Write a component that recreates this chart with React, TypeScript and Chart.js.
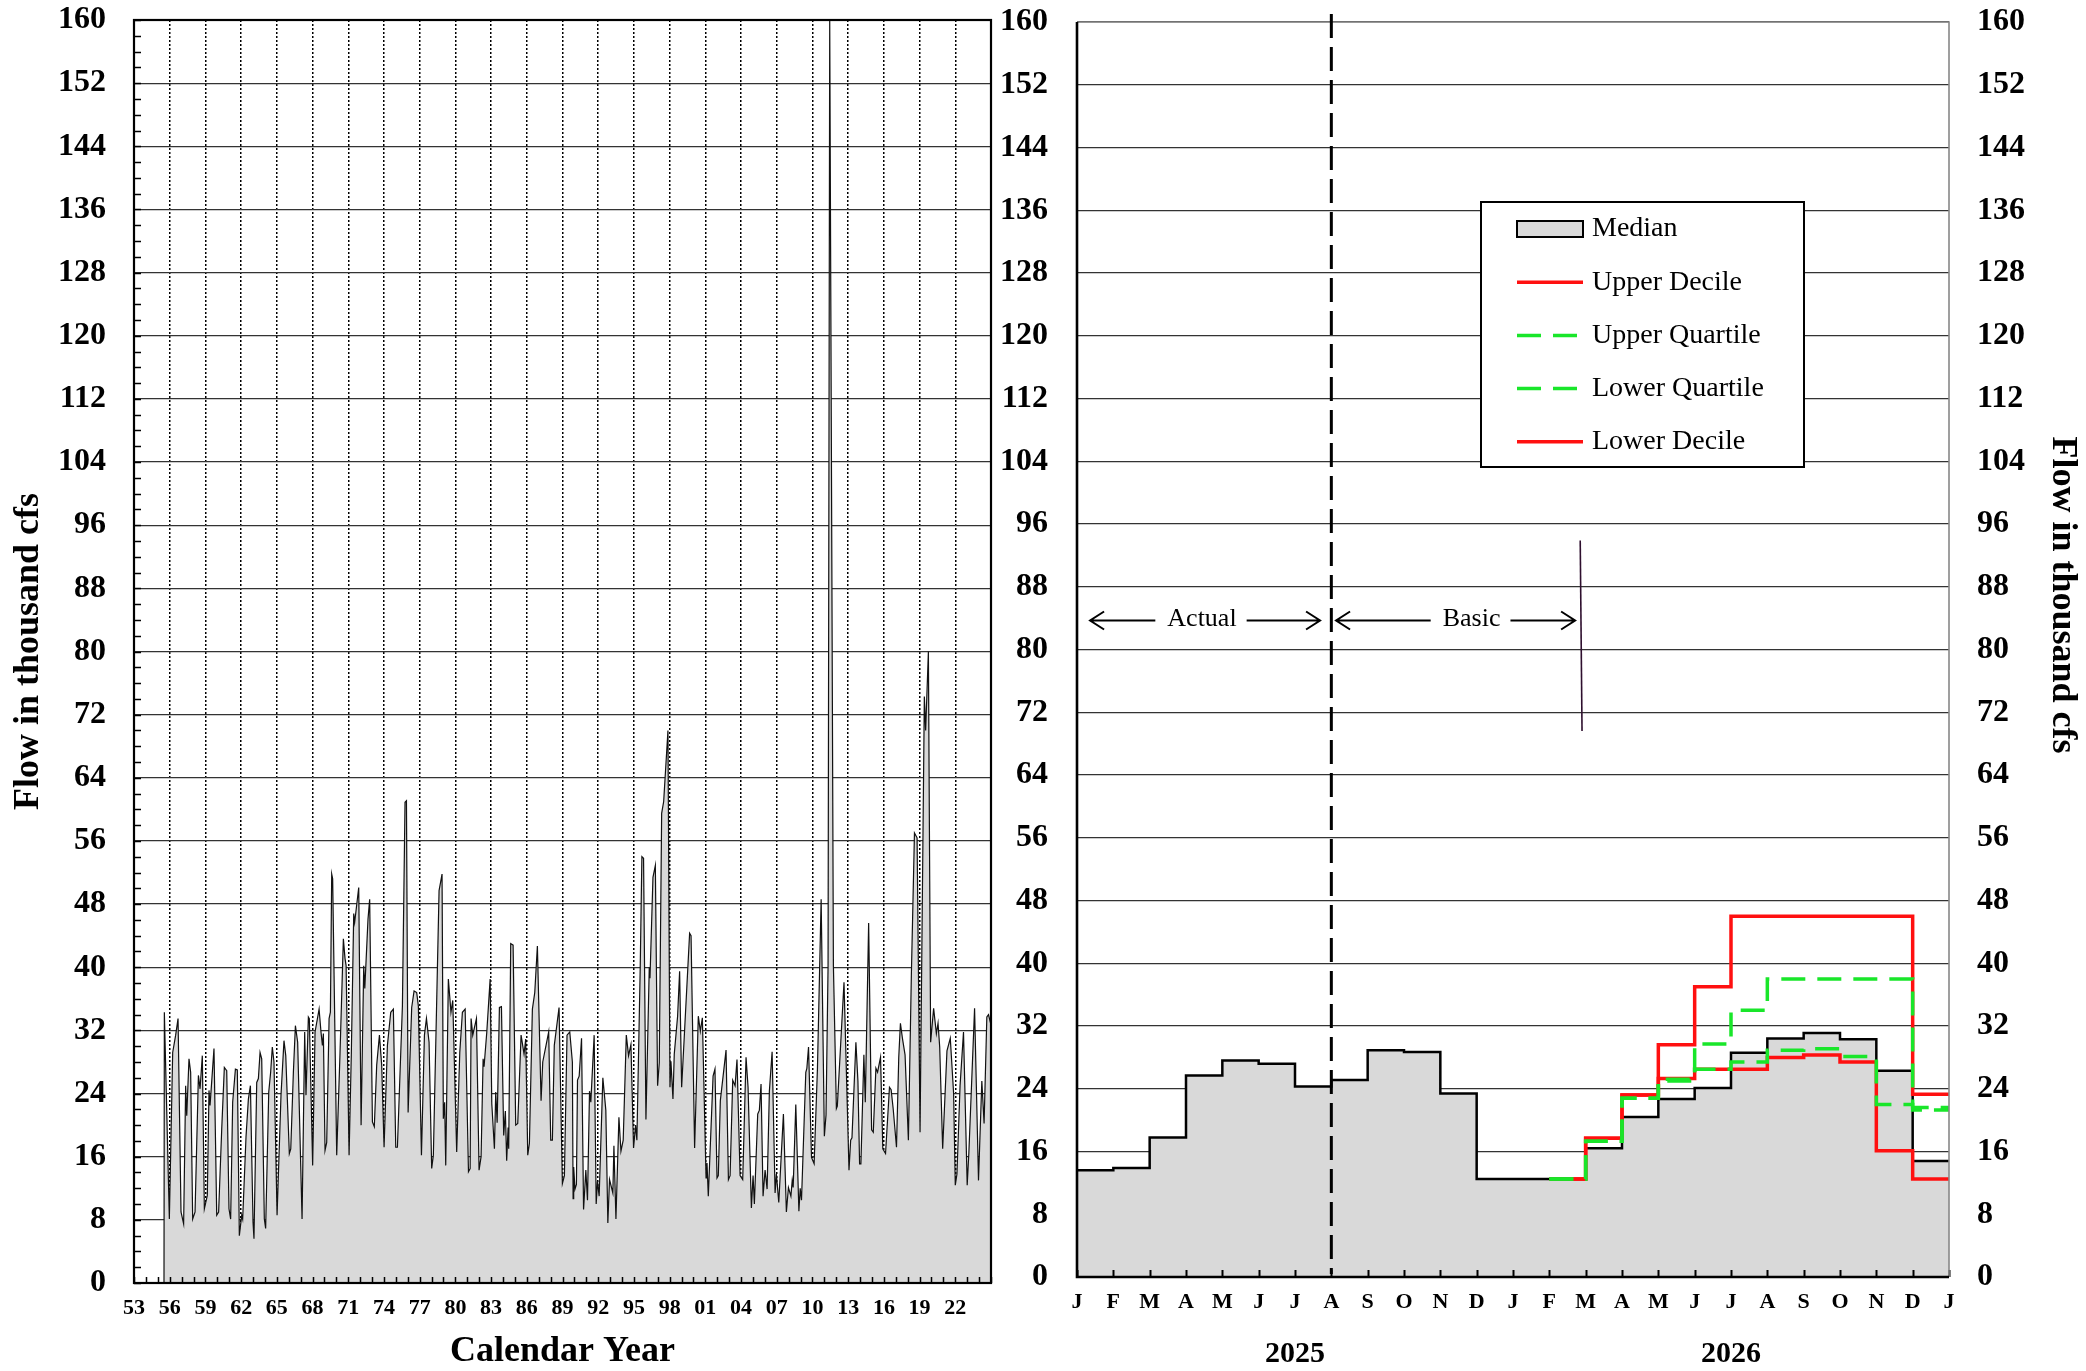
import React, { useEffect, useRef } from 'react';
import { Chart, registerables } from 'chart.js';

Chart.register(...registerables);

const W = 2086;
const H = 1371;
const SERIF = '"Liberation Serif", "Times New Roman", Times, serif';

// ---------------- Left panel: historical flow (thousand cfs) ----------------
const histYears = [
  1955.52, 1955.55, 1955.97, 1956.25, 1956.5, 1956.7, 1956.95, 1957.17, 1957.34, 1957.43, 1957.62, 1957.76,
  1957.93, 1958.13, 1958.41, 1958.55, 1958.74, 1958.91, 1959.16, 1959.3, 1959.39, 1959.72, 1959.95, 1960.11,
  1960.37, 1960.59, 1960.79, 1960.98, 1961.12, 1961.29, 1961.52, 1961.68, 1961.85, 1962.05, 1962.13, 1962.41,
  1962.61, 1962.78, 1963.0, 1963.08, 1963.31, 1963.45, 1963.59, 1963.73, 1963.95, 1964.06, 1964.32, 1964.48,
  1964.62, 1964.76, 1965.02, 1965.35, 1965.6, 1965.75, 1966.05, 1966.17, 1966.39, 1966.56, 1966.75, 1967.12,
  1967.34, 1967.45, 1967.65, 1967.73, 1968.01, 1968.21, 1968.55, 1968.71, 1968.83, 1968.91, 1969.05, 1969.19,
  1969.39, 1969.5, 1969.61, 1969.69, 1970.03, 1970.31, 1970.59, 1970.73, 1970.82, 1971.07, 1971.26, 1971.46,
  1971.54, 1971.88, 1972.08, 1972.3, 1972.39, 1972.66, 1972.8, 1973.03, 1973.19, 1973.39, 1973.62, 1973.81,
  1974.01, 1974.29, 1974.57, 1974.79, 1974.99, 1975.13, 1975.55, 1975.77, 1975.89, 1976.03, 1976.33, 1976.53,
  1976.75, 1976.89, 1977.15, 1977.4, 1977.57, 1977.79, 1978.01, 1978.15, 1978.41, 1978.63, 1978.88, 1978.99,
  1979.1, 1979.19, 1979.41, 1979.63, 1979.78, 1980.11, 1980.37, 1980.59, 1980.82, 1981.1, 1981.24, 1981.32,
  1981.46, 1981.77, 1981.99, 1982.16, 1982.33, 1982.41, 1982.64, 1982.92, 1983.06, 1983.28, 1983.39, 1983.51,
  1983.7, 1983.87, 1984.06, 1984.2, 1984.31, 1984.43, 1984.48, 1984.65, 1984.85, 1985.07, 1985.24, 1985.52,
  1985.77, 1985.91, 1986.08, 1986.22, 1986.47, 1986.67, 1986.89, 1987.2, 1987.34, 1987.67, 1987.84, 1988.01,
  1988.15, 1988.31, 1988.71, 1988.99, 1989.16, 1989.38, 1989.61, 1989.83, 1989.89, 1989.94, 1990.05, 1990.17,
  1990.26, 1990.4, 1990.6, 1990.77, 1990.96, 1991.1, 1991.27, 1991.38, 1991.66, 1991.83, 1991.94, 1992.08,
  1992.39, 1992.64, 1992.81, 1992.95, 1993.23, 1993.32, 1993.49, 1993.74, 1993.91, 1994.1, 1994.36, 1994.55,
  1994.75, 1994.97, 1995.14, 1995.25, 1995.53, 1995.67, 1995.81, 1996.01, 1996.29, 1996.35, 1996.6, 1996.8,
  1996.99, 1997.13, 1997.33, 1997.5, 1997.86, 1998.03, 1998.11, 1998.28, 1998.39, 1998.67, 1998.84, 1999.01,
  1999.23, 1999.68, 1999.8, 2000.1, 2000.41, 2000.58, 2000.75, 2001.06, 2001.14, 2001.25, 2001.65, 2001.81,
  2001.98, 2002.09, 2002.26, 2002.74, 2002.94, 2003.08, 2003.3, 2003.5, 2003.66, 2003.92, 2004.14, 2004.42,
  2004.59, 2004.87, 2005.01, 2005.12, 2005.4, 2005.54, 2005.68, 2005.85, 2006.02, 2006.19, 2006.38, 2006.61,
  2006.86, 2006.97, 2007.17, 2007.56, 2007.81, 2007.98, 2008.19, 2008.3, 2008.38, 2008.6, 2008.86, 2008.97,
  2009.08, 2009.44, 2009.53, 2009.67, 2009.92, 2010.14, 2010.42, 2010.73, 2011.0, 2011.14, 2011.31, 2011.45,
  2011.76, 2012.01, 2012.09, 2012.65, 2013.07, 2013.21, 2013.32, 2013.65, 2013.82, 2013.96, 2014.07, 2014.32,
  2014.44, 2014.72, 2014.97, 2015.11, 2015.33, 2015.47, 2015.72, 2015.91, 2016.14, 2016.47, 2016.61, 2016.78,
  2017.06, 2017.25, 2017.39, 2017.56, 2017.78, 2018.06, 2018.31, 2018.57, 2018.79, 2019.04, 2019.4, 2019.51,
  2019.74, 2019.93, 2020.18, 2020.41, 2020.55, 2020.69, 2020.94, 2021.3, 2021.58, 2021.86, 2022.0, 2022.14,
  2022.4, 2022.69, 2023.0, 2023.14, 2023.62, 2023.95, 2024.23, 2024.42, 2024.65, 2024.79, 2024.95,
];
const histFlows = [
  0, 34.3, 8.1, 29.2, 31.4, 33.5, 9.0, 7.5, 25.0, 21.2, 28.4, 26.7,
  8.1, 9.0, 26.3, 24.6, 28.8, 9.4, 11.1, 24.4, 22.5, 29.7, 8.6, 9.0,
  19.5, 27.3, 26.9, 9.4, 8.1, 22.9, 27.1, 27.0, 6.0, 8.6, 8.1, 18.5,
  23.3, 25.0, 7.7, 5.6, 25.4, 25.9, 29.2, 28.4, 8.1, 6.9, 24.2, 26.7,
  29.9, 28.0, 8.6, 23.8, 30.7, 28.8, 16.4, 17.0, 26.7, 32.6, 30.5, 8.1,
  31.8, 23.8, 33.7, 33.5, 14.9, 31.8, 34.7, 31.8, 30.1, 31.6, 16.8, 17.8,
  33.5, 34.3, 51.8, 51.2, 16.2, 29.2, 43.6, 41.1, 40.2, 16.2, 29.2, 46.8,
  45.7, 50.1, 20.0, 40.2, 37.3, 46.1, 48.6, 20.4, 19.8, 27.6, 31.4, 27.6,
  17.2, 30.1, 34.3, 34.7, 17.2, 17.2, 35.1, 60.9, 61.1, 21.6, 34.9, 37.0,
  36.8, 35.1, 16.2, 31.4, 33.5, 30.5, 14.5, 16.2, 34.3, 49.7, 51.8, 20.8,
  22.9, 14.9, 38.5, 34.3, 35.8, 16.6, 29.2, 34.3, 34.7, 14.1, 14.5, 33.5,
  31.4, 33.5, 14.3, 16.0, 28.4, 27.4, 31.8, 38.5, 22.7, 17.0, 24.2, 20.3,
  34.9, 35.0, 18.7, 21.8, 15.5, 19.7, 17.0, 43.0, 42.8, 20.0, 20.2, 31.4,
  29.0, 30.9, 16.2, 17.7, 34.7, 36.8, 42.7, 23.1, 28.0, 30.5, 31.8, 18.1,
  18.1, 30.1, 34.9, 12.6, 13.6, 31.4, 31.8, 28.0, 10.7, 14.7, 11.9, 12.5,
  25.7, 26.2, 31.0, 9.3, 14.3, 10.5, 24.3, 22.9, 31.4, 10.0, 12.9, 11.0,
  26.0, 21.9, 7.6, 13.1, 11.4, 17.4, 8.1, 21.0, 16.7, 18.1, 31.4, 28.8,
  30.2, 17.1, 20.0, 18.1, 40.0, 54.0, 53.8, 20.7, 40.0, 38.6, 51.4, 52.9,
  25.0, 27.9, 59.5, 61.0, 70.0, 24.8, 28.1, 23.3, 29.0, 33.8, 39.5, 24.8,
  31.2, 44.3, 44.0, 17.1, 33.8, 31.9, 33.6, 13.3, 15.2, 11.0, 26.2, 27.1,
  13.3, 13.6, 23.1, 29.5, 13.1, 13.6, 25.7, 25.0, 28.3, 13.6, 13.1, 28.6,
  24.8, 9.5, 13.6, 10.0, 21.4, 21.9, 25.2, 11.0, 14.3, 11.9, 24.3, 29.3,
  11.4, 13.8, 10.2, 21.4, 9.0, 12.1, 11.0, 13.0, 12.1, 22.6, 9.1, 12.0,
  10.5, 26.7, 27.2, 29.9, 15.9, 15.1, 27.2, 48.6, 18.6, 21.3, 40.0, 160,
  40.2, 22.1, 22.4, 38.1, 14.3, 18.1, 18.4, 30.5, 25.6, 15.1, 15.1, 28.9,
  22.9, 45.6, 19.4, 19.1, 27.2, 26.7, 28.6, 17.0, 16.4, 24.8, 24.5, 22.1,
  17.2, 28.6, 32.9, 31.0, 28.9, 18.1, 39.1, 57.0, 56.4, 19.1, 74.3, 70.0,
  80.0, 30.5, 34.8, 31.6, 32.9, 29.9, 17.0, 29.4, 31.0, 24.0, 12.4, 13.8,
  25.0, 31.8, 12.4, 16.5, 34.8, 13.0, 25.6, 20.2, 33.7, 34.0, 33.0,
];

const yearTicks = [
  1953, 1956, 1959, 1962, 1965, 1968, 1971, 1974, 1977, 1980, 1983, 1986,
  1989, 1992, 1995, 1998, 2001, 2004, 2007, 2010, 2013, 2016, 2019, 2022,
];
const yearTickLabels = [
  '53', '56', '59', '62', '65', '68', '71', '74', '77', '80', '83', '86',
  '89', '92', '95', '98', '01', '04', '07', '10', '13', '16', '19', '22',
];
const yearMin = 1953;
const yearMax = 2025;
const flowMin = 0;
const flowMax = 160;
const flowStep = 8;

// ---------------- Right panel: 2025 actual + 2026 forecast ----------------
const monthLabels = ['J', 'F', 'M', 'A', 'M', 'J', 'J', 'A', 'S', 'O', 'N', 'D',
  'J', 'F', 'M', 'A', 'M', 'J', 'J', 'A', 'S', 'O', 'N', 'D', 'J'];
const yearLabels = ['2025', '2026'];
const yearLabelMonths = [6, 18];
const medianFlows = [13.6, 13.9, 17.8, 25.7, 27.6, 27.2, 24.3, 25.1, 28.9, 28.7, 23.4, 12.5,
  12.5, 12.5, 16.4, 20.4, 22.7, 24.1, 28.6, 30.4, 31.1, 30.3, 26.3, 14.8];
const forecastStart = 13; // Feb 2026
const upperDecile = [12.5, 17.7, 23.2, 29.6, 37.0, 46.0, 46.0, 46.0, 46.0, 46.0, 23.3];
const upperQuartile = [12.5, 17.3, 22.8, 25.0, 29.7, 34.0, 38.0, 38.0, 38.0, 38.0, 21.6];
const lowerQuartile = [12.5, 17.3, 22.8, 25.2, 26.5, 27.4, 28.9, 29.1, 28.1, 22.0, 21.3];
const lowerDecile = [12.5, 17.7, 23.2, 25.3, 26.5, 26.5, 28.0, 28.3, 27.4, 16.1, 12.5];
const dividerMonth = 7; // Aug 2025
const arrowFlow = 83.7;
const actualArrow = [0.36, 6.69];
const actualLabelMonth = 3.44;
const basicArrow = [7.13, 13.71];
const basicLabelMonth = 10.86;
const basicMarkerMonths = [13.85, 13.9];
const basicMarkerFlows = [93.9, 69.6];

const stepData = (vals: number[], start: number) => [
  ...vals.map((v, i) => ({ x: start + i, y: v })),
  { x: start + vals.length, y: vals[vals.length - 1] },
];

// fix the size of an axis box so the plot area lands where the reference has it
const fixedFit = (size: number) => (scale: any) => {
  if (scale.isHorizontal()) scale.height = size;
  else scale.width = size;
  scale.paddingLeft = 0;
  scale.paddingRight = 0;
  scale.paddingTop = 0;
  scale.paddingBottom = 0;
};

const RED = '#ff1010';
const GREEN = '#19e62a';
const FILL = '#d9d9d9';

const leftDecor = {
  id: 'leftDecor',
  afterDatasetsDraw(chart: any) {
    const { ctx, chartArea: a, scales } = chart;
    const x = scales.x;
    const y = scales.y;
    ctx.save();
    ctx.strokeStyle = '#000';
    ctx.lineWidth = 1.5;
    ctx.beginPath();
    for (let yr = yearMin; yr <= yearMax; yr++) {
      const px = Math.round(x.getPixelForValue(yr)) + 0.5;
      ctx.moveTo(px, a.bottom);
      ctx.lineTo(px, a.bottom - 6);
    }
    for (let v = flowMin; v <= flowMax; v += 2) {
      const py = Math.round(y.getPixelForValue(v)) + 0.5;
      ctx.moveTo(a.left, py);
      ctx.lineTo(a.left + 7, py);
    }
    ctx.stroke();
    ctx.lineWidth = 2.2;
    ctx.strokeRect(a.left, a.top, a.right - a.left, a.bottom - a.top);
    ctx.restore();
  },
  afterDraw(chart: any) {
    const { ctx, chartArea: a } = chart;
    ctx.save();
    ctx.fillStyle = '#000';
    ctx.textAlign = 'center';
    ctx.textBaseline = 'middle';
    ctx.font = `bold 36px ${SERIF}`;
    ctx.fillText('Calendar Year', (a.left + a.right) / 2, 1352);
    ctx.translate(29, (a.top + a.bottom) / 2);
    ctx.rotate(-Math.PI / 2);
    ctx.fillText('Flow in thousand cfs', 0, 0);
    ctx.restore();
  },
};

function drawArrowLabel(ctx: any, text: string, xl: number, xr: number, xc: number, y: number) {
  const tw = ctx.measureText(text).width;
  ctx.fillText(text, xc, y + 6);
  ctx.beginPath();
  ctx.moveTo(xl, y);
  ctx.lineTo(xc - tw / 2 - 12, y);
  ctx.moveTo(xc + tw / 2 + 10, y);
  ctx.lineTo(xr, y);
  ctx.moveTo(xl + 14, y - 9);
  ctx.lineTo(xl, y);
  ctx.lineTo(xl + 14, y + 9);
  ctx.moveTo(xr - 14, y - 9);
  ctx.lineTo(xr, y);
  ctx.lineTo(xr - 14, y + 9);
  ctx.stroke();
}

const rightDecor = {
  id: 'rightDecor',
  afterDatasetsDraw(chart: any) {
    const { ctx, chartArea: a, scales } = chart;
    const x = scales.x;
    ctx.save();
    ctx.strokeStyle = '#000';
    ctx.lineWidth = 2;
    ctx.beginPath();
    for (let m = 0; m < monthLabels.length; m++) {
      const px = Math.round(x.getPixelForValue(m)) + 0.5;
      ctx.moveTo(px, a.bottom);
      ctx.lineTo(px, a.bottom - 7);
    }
    ctx.stroke();
    ctx.strokeStyle = '#888';
    ctx.lineWidth = 1.6;
    ctx.beginPath();
    ctx.moveTo(a.left, a.top);
    ctx.lineTo(a.right, a.top);
    ctx.lineTo(a.right, a.bottom);
    ctx.stroke();
    ctx.strokeStyle = '#000';
    ctx.lineWidth = 2.6;
    ctx.beginPath();
    ctx.moveTo(a.left, a.top);
    ctx.lineTo(a.left, a.bottom);
    ctx.lineTo(a.right, a.bottom);
    ctx.stroke();
    const dx = x.getPixelForValue(dividerMonth);
    ctx.lineWidth = 3;
    ctx.setLineDash([24, 9]);
    ctx.beginPath();
    ctx.moveTo(dx, a.top - 8);
    ctx.lineTo(dx, a.bottom - 3);
    ctx.stroke();
    ctx.restore();
  },
  afterDraw(chart: any) {
    const { ctx, scales } = chart;
    const x = scales.x;
    const y = scales.y;
    ctx.save();
    ctx.fillStyle = '#000';
    ctx.textAlign = 'center';
    ctx.textBaseline = 'middle';
    ctx.font = `bold 30px ${SERIF}`;
    yearLabels.forEach((t, i) => ctx.fillText(t, x.getPixelForValue(yearLabelMonths[i]), 1354));

    ctx.save();
    ctx.font = `bold 36px ${SERIF}`;
    ctx.translate(2062, 595);
    ctx.rotate(Math.PI / 2);
    ctx.fillText('Flow in thousand cfs', 0, 0);
    ctx.restore();

    ctx.font = `26px ${SERIF}`;
    ctx.textBaseline = 'alphabetic';
    ctx.strokeStyle = '#000';
    ctx.lineWidth = 2;
    const ay = y.getPixelForValue(arrowFlow);
    drawArrowLabel(ctx, 'Actual', x.getPixelForValue(actualArrow[0]), x.getPixelForValue(actualArrow[1]),
      x.getPixelForValue(actualLabelMonth), ay);
    drawArrowLabel(ctx, 'Basic', x.getPixelForValue(basicArrow[0]), x.getPixelForValue(basicArrow[1]),
      x.getPixelForValue(basicLabelMonth), ay);
    ctx.strokeStyle = '#2e0f2e';
    ctx.lineWidth = 1.6;
    ctx.beginPath();
    ctx.moveTo(x.getPixelForValue(basicMarkerMonths[0]), y.getPixelForValue(basicMarkerFlows[0]));
    ctx.lineTo(x.getPixelForValue(basicMarkerMonths[1]), y.getPixelForValue(basicMarkerFlows[1]));
    ctx.stroke();

    const lx = 1481, ly = 202, lw = 323, lh = 265;
    ctx.fillStyle = '#fff';
    ctx.fillRect(lx, ly, lw, lh);
    ctx.strokeStyle = '#000';
    ctx.lineWidth = 2;
    ctx.strokeRect(lx, ly, lw, lh);
    ctx.textAlign = 'left';
    ctx.textBaseline = 'middle';
    ctx.font = `28px ${SERIF}`;
    chart.data.datasets.forEach((ds: any, i: number) => {
      const cy = 229 + i * 53.2;
      if (ds.fill) {
        ctx.fillStyle = ds.backgroundColor;
        ctx.fillRect(1517, cy - 8, 66, 16);
        ctx.strokeStyle = '#000';
        ctx.lineWidth = 2;
        ctx.strokeRect(1517, cy - 8, 66, 16);
      } else {
        ctx.strokeStyle = ds.borderColor;
        ctx.lineWidth = 3.5;
        ctx.setLineDash(ds.borderDash || []);
        ctx.beginPath();
        ctx.moveTo(1517, cy);
        ctx.lineTo(1583, cy);
        ctx.stroke();
        ctx.setLineDash([]);
      }
      ctx.fillStyle = '#000';
      ctx.fillText(ds.label, 1592, cy);
    });
    ctx.restore();
  },
};

const tickFont = (size: number) => ({ family: SERIF, size, weight: 'bold' as const });

export default function App() {
  const leftRef = useRef<HTMLCanvasElement>(null);
  const rightRef = useRef<HTMLCanvasElement>(null);

  useEffect(() => {
    const left = new Chart(leftRef.current as HTMLCanvasElement, {
      type: 'line',
      data: {
        datasets: [{
          label: 'Flow',
          data: histYears.map((yr, i) => ({ x: yr, y: histFlows[i] })),
          borderColor: '#111',
          borderWidth: 1.2,
          backgroundColor: FILL,
          fill: 'origin',
          pointRadius: 0,
          tension: 0,
        }],
      },
      options: {
        animation: false,
        responsive: false,
        devicePixelRatio: 1,
        events: [],
        // plot area: x 134..991, y 20..1283
        layout: { padding: { left: 0, top: 20, right: W - 991, bottom: 0 } },
        plugins: { legend: { display: false }, tooltip: { enabled: false } },
        scales: {
          x: {
            type: 'linear',
            min: yearMin,
            max: yearMax,
            afterFit: fixedFit(H - 1283),
            afterBuildTicks: (s: any) => { s.ticks = yearTicks.map((v) => ({ value: v })); },
            grid: { color: '#000', lineWidth: 1.5, drawTicks: false },
            border: { display: false, dash: [2, 2] },
            ticks: {
              autoSkip: false,
              maxRotation: 0,
              padding: 12,
              color: '#000',
              font: tickFont(22),
              callback: (v: any) => yearTickLabels[yearTicks.indexOf(Number(v))] ?? '',
            },
          },
          y: {
            type: 'linear',
            min: flowMin,
            max: flowMax,
            afterFit: fixedFit(134),
            grid: { color: '#333', lineWidth: 1.2, drawTicks: false },
            border: { display: false },
            ticks: { stepSize: flowStep, padding: 28, color: '#000', font: tickFont(32) },
          },
        },
      },
      plugins: [leftDecor],
    } as any);

    const right = new Chart(rightRef.current as HTMLCanvasElement, {
      type: 'line',
      data: {
        datasets: [
          {
            label: 'Median',
            data: stepData(medianFlows, 0),
            stepped: 'before',
            borderColor: '#000',
            borderWidth: 2.5,
            backgroundColor: FILL,
            fill: 'origin',
            pointRadius: 0,
            order: 10,
          },
          {
            label: 'Upper Decile',
            data: stepData(upperDecile, forecastStart),
            stepped: 'before',
            borderColor: RED,
            borderWidth: 3.5,
            fill: false,
            pointRadius: 0,
            order: 2,
          },
          {
            label: 'Upper Quartile',
            data: stepData(upperQuartile, forecastStart),
            stepped: 'before',
            borderColor: GREEN,
            borderWidth: 3.5,
            borderDash: [24, 12],
            fill: false,
            pointRadius: 0,
            order: 1,
          },
          {
            label: 'Lower Quartile',
            data: stepData(lowerQuartile, forecastStart),
            stepped: 'before',
            borderColor: GREEN,
            borderWidth: 3.5,
            borderDash: [24, 12],
            fill: false,
            pointRadius: 0,
            order: 1,
          },
          {
            label: 'Lower Decile',
            data: stepData(lowerDecile, forecastStart),
            stepped: 'before',
            borderColor: RED,
            borderWidth: 3.5,
            fill: false,
            pointRadius: 0,
            order: 2,
          },
        ],
      },
      options: {
        animation: false,
        responsive: false,
        devicePixelRatio: 1,
        events: [],
        // plot area: x 1077..1949, y 22..1277
        layout: { padding: { left: 1077 - 90, top: 22, right: W - 1949 - 110, bottom: H - 1277 - 80 } },
        plugins: { legend: { display: false }, tooltip: { enabled: false } },
        scales: {
          x: {
            type: 'linear',
            min: 0,
            max: monthLabels.length - 1,
            afterFit: fixedFit(80),
            grid: { display: false, drawTicks: false },
            border: { display: false },
            ticks: {
              stepSize: 1,
              autoSkip: false,
              maxRotation: 0,
              padding: 12,
              color: '#000',
              font: tickFont(22),
              callback: (v: any) => monthLabels[Number(v)] ?? '',
            },
          },
          y: {
            type: 'linear',
            position: 'left',
            min: flowMin,
            max: flowMax,
            afterFit: fixedFit(90),
            grid: { color: '#333', lineWidth: 1.2, drawTicks: false },
            border: { display: false },
            ticks: { stepSize: flowStep, padding: 29, color: '#000', font: tickFont(32) },
          },
          y2: {
            type: 'linear',
            position: 'right',
            min: flowMin,
            max: flowMax,
            afterFit: fixedFit(110),
            grid: { display: false, drawTicks: false },
            border: { display: false },
            ticks: { stepSize: flowStep, padding: 28, color: '#000', font: tickFont(32) },
          },
        },
      },
      plugins: [rightDecor],
    } as any);

    return () => {
      left.destroy();
      right.destroy();
    };
  }, []);

  return (
    <div style={{ position: 'fixed', left: 0, top: 0, width: W, height: H, background: '#fff', overflow: 'hidden' }}>
      <canvas ref={leftRef} width={W} height={H} style={{ position: 'absolute', left: 0, top: 0, width: W, height: H }} />
      <canvas ref={rightRef} width={W} height={H} style={{ position: 'absolute', left: 0, top: 0, width: W, height: H }} />
    </div>
  );
}
